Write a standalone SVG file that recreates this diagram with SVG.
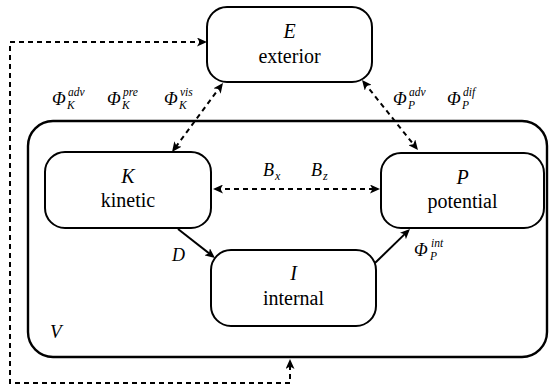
<svg xmlns="http://www.w3.org/2000/svg" width="550" height="388" viewBox="0 0 550 388" font-family="'Liberation Serif', 'Times New Roman', serif">
<defs>
<style>
.box{fill:#fff;stroke:#000;stroke-width:2}
.outer{fill:none;stroke:#000;stroke-width:2.4}
.t{font-family:'Liberation Serif','Times New Roman',serif;font-size:20px;fill:#000;text-anchor:middle}
.m{font-family:'Liberation Serif','Times New Roman',serif;font-style:italic;fill:#000}
.ln{fill:none;stroke:#000;stroke-width:2}
.dash{stroke-dasharray:5,4}
</style>
<marker id="ah" viewBox="0 0 10 9" markerWidth="10" markerHeight="9" refX="7" refY="4.5" orient="auto-start-reverse" markerUnits="userSpaceOnUse">
<path d="M0,0 L10,4.5 L0,9 L2.5,4.5 Z" fill="#000"/>
</marker>
</defs>
<rect width="550" height="388" fill="#fff"/>
<g id="V">
<rect class="outer" x="28" y="121" width="519" height="236" rx="25"/>
<text class="m" x="50" y="338" font-size="19">V</text>
</g>
<g id="connectors">
<path class="ln dash" d="M204,42 H10 V383 H290 V362" marker-start="url(#ah)" marker-end="url(#ah)"/>
<path class="ln dash" d="M221.2,85.4 L173.8,149.6" marker-start="url(#ah)" marker-end="url(#ah)"/>
<path class="ln dash" d="M363.9,82.3 L416.1,147.7" marker-start="url(#ah)" marker-end="url(#ah)"/>
<path class="ln dash" d="M216,189 H377" marker-start="url(#ah)" marker-end="url(#ah)"/>
<path class="ln" d="M178,229 L212.6,256.1" marker-end="url(#ah)"/>
<path class="ln" d="M375,263 L407.8,231.1" marker-end="url(#ah)"/>
</g>
<g id="E">
<rect class="box" x="207" y="7" width="165" height="75" rx="20"/>
<text class="t" x="289.5" y="38" font-style="italic">E</text>
<text class="t" x="289.5" y="63">exterior</text>
</g>
<g id="K">
<rect class="box" x="45" y="152" width="166" height="76" rx="20"/>
<text class="t" x="128" y="183" font-style="italic">K</text>
<text class="t" x="128" y="207">kinetic</text>
</g>
<g id="P">
<rect class="box" x="381" y="153" width="163" height="75" rx="20"/>
<text class="t" x="462.5" y="184" font-style="italic">P</text>
<text class="t" x="462.5" y="208">potential</text>
</g>
<g id="I">
<rect class="box" x="211" y="250" width="165" height="76" rx="20"/>
<text class="t" x="293.5" y="280" font-style="italic">I</text>
<text class="t" x="293.5" y="305">internal</text>
</g>
<g id="labels">
<text class="m" x="52" y="105" font-size="18">Φ</text>
<text class="m" x="68" y="96" font-size="11.5">adv</text>
<text class="m" x="67" y="109" font-size="11.5">K</text>
<text class="m" x="107" y="105" font-size="18">Φ</text>
<text class="m" x="123" y="96" font-size="11.5">pre</text>
<text class="m" x="122" y="109" font-size="11.5">K</text>
<text class="m" x="164" y="105" font-size="18">Φ</text>
<text class="m" x="180" y="96" font-size="11.5">vis</text>
<text class="m" x="179" y="109" font-size="11.5">K</text>
<text class="m" x="393" y="105" font-size="18">Φ</text>
<text class="m" x="409" y="96" font-size="11.5">adv</text>
<text class="m" x="408" y="109" font-size="11.5">P</text>
<text class="m" x="447" y="105" font-size="18">Φ</text>
<text class="m" x="463" y="96" font-size="11.5">dif</text>
<text class="m" x="462" y="109" font-size="11.5">P</text>
<text class="m" x="263" y="176" font-size="18">B</text>
<text class="m" x="275" y="180" font-size="12">x</text>
<text class="m" x="311" y="176" font-size="18">B</text>
<text class="m" x="323" y="180" font-size="12">z</text>
<text class="m" x="172" y="261" font-size="18">D</text>
<text class="m" x="414" y="256" font-size="18">Φ</text>
<text class="m" x="431" y="247" font-size="11.5">int</text>
<text class="m" x="430" y="260" font-size="11.5">P</text>
</g>
</svg>
